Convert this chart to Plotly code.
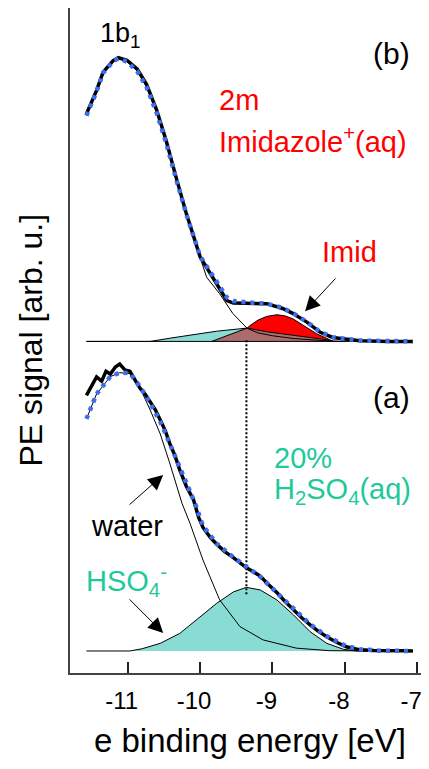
import plotly.graph_objects as go

# ---------------- data ----------------
# (b) 2m Imidazole+(aq)  -- values relative to its own baseline
b_x_total = [-11.57, -11.43, -11.34, -11.20, -11.13, -11.01, -10.87, -10.74, -10.60, -10.47,
             -10.32, -10.19, -10.00, -9.91, -9.77, -9.63, -9.54, -9.40, -9.27, -9.08,
             -8.86, -8.72, -8.52, -8.34, -8.17, -7.79, -7.40, -7.06]
b_total = [0.801, 0.884, 0.948, 0.989, 0.999, 0.990, 0.960, 0.905, 0.815, 0.708,
           0.567, 0.450, 0.298, 0.261, 0.203, 0.144, 0.135, 0.134, 0.134, 0.133,
           0.116, 0.099, 0.067, 0.032, 0.014, 0.002, 0.0, 0.0]
b_fit = [0.795, 0.880, 0.945, 0.987, 0.996, 0.985, 0.952, 0.896, 0.805, 0.700,
         0.562, 0.448, 0.300, 0.266, 0.210, 0.155, 0.142, 0.138, 0.136, 0.133,
         0.118, 0.100, 0.068, 0.033, 0.015, 0.003, 0.001, 0.0]
b_x_water = [-11.57, -11.43, -11.34, -11.20, -11.13, -11.01, -10.87, -10.74, -10.60, -10.47,
             -10.32, -10.19, -10.00, -9.91, -9.73, -9.55, -9.35, -9.20, -9.00, -8.70,
             -8.30, -8.00]
b_water = [0.795, 0.880, 0.945, 0.987, 0.996, 0.985, 0.952, 0.896, 0.805, 0.700,
           0.562, 0.448, 0.296, 0.226, 0.168, 0.099, 0.046, 0.030, 0.020, 0.010,
           0.003, 0.0]
b_x_c1 = [-11.57, -10.69, -10.40, -10.18, -9.77, -9.35]
b_c1 = [0.0, 0.0, 0.012, 0.021, 0.036, 0.047]
b_x_c2 = [-9.84, -9.60, -9.35, -9.08, -8.71, -8.25, -8.16]
b_c2 = [0.0, 0.022, 0.047, 0.034, 0.021, 0.006, 0.0]
b_x_imid = [-9.35, -9.31, -9.20, -9.08, -8.94, -8.83, -8.72, -8.53, -8.39, -8.21, -8.16]
b_imid = [0.047, 0.056, 0.075, 0.088, 0.094, 0.090, 0.080, 0.050, 0.027, 0.006, 0.0]

# (a) 20% H2SO4(aq)
a_x_total = [-11.57, -11.50, -11.43, -11.36, -11.30, -11.24, -11.17, -11.11, -11.04, -10.97,
             -10.90, -10.83, -10.76, -10.69, -10.62, -10.55, -10.48, -10.42, -10.35, -10.28,
             -10.19, -10.09, -10.02, -9.96, -9.86, -9.77, -9.66, -9.54, -9.45, -9.36,
             -9.27, -9.17, -9.06, -8.94, -8.83, -8.71, -8.60, -8.48, -8.37, -8.25,
             -8.11, -7.98, -7.88, -7.79, -7.60, -7.40, -7.20, -7.06]
a_total = [0.900, 0.930, 0.965, 0.950, 0.985, 0.975, 1.000, 1.010, 0.990, 0.985,
           0.955, 0.925, 0.905, 0.878, 0.850, 0.813, 0.775, 0.731, 0.690, 0.637,
           0.580, 0.532, 0.470, 0.435, 0.400, 0.376, 0.350, 0.329, 0.310, 0.293,
           0.280, 0.264, 0.235, 0.206, 0.175, 0.144, 0.118, 0.092, 0.070, 0.050,
           0.030, 0.015, 0.008, 0.004, 0.002, 0.0, 0.001, 0.0]
a_x_fit = [-11.57, -11.43, -11.24, -11.11, -10.97, -10.83, -10.69, -10.55, -10.42, -10.23,
           -10.07, -9.96, -9.77, -9.54, -9.36, -9.17, -8.94, -8.71, -8.48, -8.25,
           -7.98, -7.79, -7.50, -7.06]
a_fit = [0.817, 0.905, 0.966, 0.980, 0.978, 0.931, 0.873, 0.807, 0.731, 0.614,
         0.520, 0.440, 0.378, 0.330, 0.295, 0.262, 0.205, 0.147, 0.094, 0.052,
         0.017, 0.006, 0.001, 0.0]
a_x_water = [-11.57, -11.43, -11.24, -11.11, -10.97, -10.83, -10.69, -10.55, -10.42, -10.25,
             -10.14, -9.96, -9.73, -9.45, -9.13, -8.67, -8.21, -7.06]
a_water = [0.817, 0.905, 0.966, 0.980, 0.977, 0.926, 0.849, 0.764, 0.662, 0.520,
           0.450, 0.320, 0.180, 0.086, 0.039, 0.010, 0.001, 0.0]
a_x_hso4 = [-11.57, -10.97, -10.80, -10.55, -10.28, -10.00, -9.77, -9.54, -9.36, -9.17,
            -8.94, -8.71, -8.48, -8.25, -8.02, -7.85, -7.06]
a_hso4 = [0.0, 0.0, 0.008, 0.027, 0.062, 0.121, 0.168, 0.208, 0.224, 0.215,
          0.180, 0.127, 0.068, 0.027, 0.006, 0.0, 0.0]

b_offset = 1.09
peak_marker_x = [-9.36, -9.36]
peak_marker_y = [0.20, 1.10]

tick_vals = [-11, -10, -9, -8, -7]
tick_text = ["-11", "-10", "-9", "-8", "-7"]

# ---------------- styles ----------------
FONT = "Liberation Sans, Arial, sans-serif"
BLUE = "#3b6ff0"
CYAN_FILL = "#88dcd4"
BROWN_FILL = "#ad6c6c"
RED = "#ff0000"
TEAL_TXT = "#1ec99a"

fig = go.Figure()

def poly(xs, top, base_xs, base, off):
    px = list(xs) + list(reversed(base_xs))
    py = [v + off for v in top] + [v + off for v in reversed(base)]
    return px, py

# (b) cyan component
px_, py_ = poly(b_x_c1, b_c1, [b_x_c1[0], b_x_c1[-1]], [0, 0], b_offset)
fig.add_trace(go.Scatter(x=px_, y=py_, fill="toself", fillcolor=CYAN_FILL,
                         line=dict(width=0), mode="lines", hoverinfo="skip"))
# (b) brown component
px_, py_ = poly(b_x_c2, b_c2, [b_x_c2[0], b_x_c2[-1]], [0, 0], b_offset)
fig.add_trace(go.Scatter(x=px_, y=py_, fill="toself", fillcolor=BROWN_FILL,
                         line=dict(width=0), mode="lines", hoverinfo="skip"))
# (b) Imid (red) between its curve and brown component
bx_sub = [x for x in b_x_c2 if x >= b_x_imid[0]]
by_sub = [y for x, y in zip(b_x_c2, b_c2) if x >= b_x_imid[0]]
px_, py_ = poly(b_x_imid, b_imid, bx_sub, by_sub, b_offset)
fig.add_trace(go.Scatter(x=px_, y=py_, fill="toself", fillcolor=RED,
                         line=dict(width=0), mode="lines", hoverinfo="skip"))
# outlines (b)
for xs, ys in [(b_x_c1, b_c1), (b_x_c2, b_c2), (b_x_imid, b_imid), (b_x_water, b_water)]:
    fig.add_trace(go.Scatter(x=xs, y=[v + b_offset for v in ys], mode="lines",
                             line=dict(color="black", width=1), hoverinfo="skip"))
fig.add_trace(go.Scatter(x=[b_x_total[0], b_x_total[-1]], y=[b_offset, b_offset], mode="lines",
                         line=dict(color="black", width=1), hoverinfo="skip"))

# (a) HSO4- component
fig.add_trace(go.Scatter(x=a_x_hso4, y=a_hso4, fill="tozeroy", fillcolor=CYAN_FILL,
                         mode="lines", line=dict(color="black", width=1), hoverinfo="skip"))
fig.add_trace(go.Scatter(x=a_x_water, y=a_water, mode="lines",
                         line=dict(color="black", width=1), hoverinfo="skip"))

# dotted vertical marker
fig.add_trace(go.Scatter(x=peak_marker_x, y=peak_marker_y, mode="lines",
                         line=dict(color="black", width=2, dash="2px,2px"), hoverinfo="skip"))

# measured spectra
fig.add_trace(go.Scatter(x=b_x_total, y=[v + b_offset for v in b_total], mode="lines",
                         line=dict(color="black", width=3.5), hoverinfo="skip"))
fig.add_trace(go.Scatter(x=a_x_total, y=a_total, mode="lines",
                         line=dict(color="black", width=3.5), hoverinfo="skip"))
# fits
fig.add_trace(go.Scatter(x=b_x_total, y=[v + b_offset for v in b_fit], mode="lines",
                         line=dict(color=BLUE, width=4.5, dash="4px,5px"), hoverinfo="skip"))
fig.add_trace(go.Scatter(x=a_x_fit, y=a_fit, mode="lines",
                         line=dict(color=BLUE, width=4.5, dash="4px,5px"), hoverinfo="skip"))

ann = []
def txt(x, y, t, size, color="black", xanchor="center"):
    ann.append(dict(x=x, y=y, xref="x", yref="y", text=t, showarrow=False,
                    font=dict(family=FONT, size=size, color=color), xanchor=xanchor,
                    yanchor="middle"))

txt(-11.10, 2.17, "1b<sub>1</sub>", 27)
txt(-7.35, 2.105, "(b)", 30)
txt(-9.77, 1.94, "2m", 29, RED, "left")
txt(-9.77, 1.80, "Imidazole<sup>+</sup>(aq)", 29, RED, "left")
txt(-7.93, 1.405, "Imid", 29, RED)
txt(-7.35, 0.894, "(a)", 30)
txt(-9.01, 0.68, "20%", 29, TEAL_TXT, "left")
txt(-9.01, 0.565, "H<sub>2</sub>SO<sub>4</sub>(aq)", 29, TEAL_TXT, "left")
txt(-11.01, 0.44, "water", 29)
txt(-11.60, 0.245, "HSO<sub>4</sub><sup>-</sup>", 29, TEAL_TXT, "left")

def arrow(x0, y0, x1, y1):
    ann.append(dict(x=x1, y=y1, ax=x0, ay=y0, xref="x", yref="y", axref="x", ayref="y",
                    text="", showarrow=True, arrowhead=2, arrowsize=3, arrowwidth=1,
                    arrowcolor="black"))

arrow(-8.11, 1.317, -8.55, 1.196)   # Imid
arrow(-10.995, 0.511, -10.51, 0.620)  # water
arrow(-10.995, 0.187, -10.51, 0.063)  # HSO4-

ann.append(dict(x=0, y=0.5, xref="paper", yref="paper", xshift=-40, text="PE signal [arb. u.]",
                textangle=-90, showarrow=False, font=dict(family=FONT, size=32, color="black"),
                xanchor="center", yanchor="middle"))
ann.append(dict(x=0.5, y=0, xref="paper", yref="paper", yshift=-67, text="e binding energy [eV]",
                showarrow=False, font=dict(family=FONT, size=33, color="black"),
                xanchor="center", yanchor="middle"))
fig.update_layout(annotations=ann)

# page body has an 8px default margin -> figure sized/offset to compensate
fig.update_layout(
    width=421, height=761,
    margin=dict(l=62, r=0, t=0, b=96, autoexpand=False),
    paper_bgcolor="white", plot_bgcolor="white",
    showlegend=False,
    font=dict(family=FONT, size=24, color="black"),
    xaxis=dict(range=[-11.797, -6.838], showline=True, linecolor="#444", linewidth=1.5,
               mirror=True, ticks="inside", ticklen=11, tickwidth=1.5, tickcolor="#222",
               tickvals=tick_vals, ticktext=tick_text, showgrid=False, zeroline=False,
               ticklabelstandoff=5, ticklabelshift=-6, tickfont=dict(size=24),
               automargin=False),
    yaxis=dict(range=[-0.0775, 2.264], showline=True, linecolor="#444", linewidth=1.5,
               mirror=False, ticks="", showticklabels=False, showgrid=False, zeroline=False,
               automargin=False),
)

fig.write_html("out.html")
